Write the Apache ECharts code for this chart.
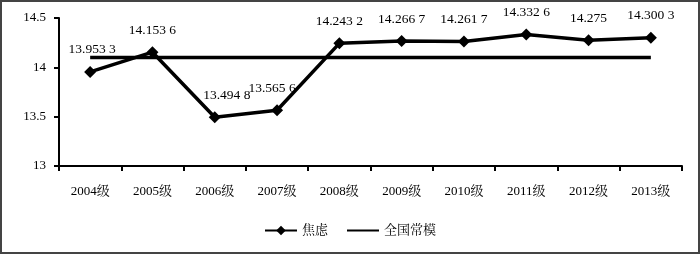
<!DOCTYPE html>
<html><head><meta charset="utf-8">
<script src="https://cdn.jsdelivr.net/npm/echarts@6/dist/echarts.min.js"></script>
<style>html,body{margin:0;padding:0;background:#fff}#c{width:700px;height:254px}</style>
</head><body><div id="c"></div>
<script>
const categories = ['2004级','2005级','2006级','2007级','2008级','2009级','2010级','2011级','2012级','2013级'];
const anxiety = [13.9533, 14.1536, 13.4948, 13.5656, 14.2432, 14.2667, 14.2617, 14.3326, 14.275, 14.3003];
const norm = [14.1, 14.1, 14.1, 14.1, 14.1, 14.1, 14.1, 14.1, 14.1, 14.1];
const yTicks = [13, 13.5, 14, 14.5];

const numFont = '"Liberation Serif","Times New Roman",serif';
const cjkFont = '"Liberation Serif","Noto Serif CJK SC","Noto Sans CJK SC",serif';
function fmt(v){
  const s = String(v);
  const [a,b] = s.split('.');
  if(!b || b.length <= 3) return s;
  return a + '.' + b.slice(0,3) + ' ' + b.slice(3);
}
const labelShift = {2:[12,0],3:[-5,0],0:[2,0]};
const anxietyData = anxiety.map((v,i)=>labelShift[i]?{value:v,label:{offset:labelShift[i]}}:v);
const chart = echarts.init(document.getElementById('c'));
chart.setOption({
  animation:false,
  backgroundColor:'#fff',
  graphic:[{type:'rect',shape:{x:1,y:1,width:698,height:252},style:{fill:'none',stroke:'#444',lineWidth:2},silent:true}],
  grid:{left:59,right:18,top:18,bottom:88},
  legend:{
    bottom:12,left:'center',itemWidth:32,itemHeight:12,itemGap:18,
    textStyle:{fontFamily:cjkFont,fontSize:13,color:'#000'},
    data:['焦虑',{name:'全国常模',itemStyle:{opacity:0}}]
  },
  xAxis:{
    type:'category',data:categories,boundaryGap:true,
    axisLine:{lineStyle:{color:'#000',width:2}},
    axisTick:{show:true,length:5,lineStyle:{color:'#000',width:2},alignWithLabel:false},
    axisLabel:{color:'#000',fontFamily:cjkFont,fontSize:13,margin:19}
  },
  yAxis:{
    type:'value',min:yTicks[0],max:yTicks[yTicks.length-1],interval:0.5,
    axisLine:{show:true,lineStyle:{color:'#000',width:2}},
    axisTick:{show:true,length:5,lineStyle:{color:'#000',width:2}},
    splitLine:{show:false},
    axisLabel:{color:'#000',fontFamily:numFont,fontSize:13,margin:13}
  },
  series:[
    {name:'焦虑',type:'line',data:anxietyData,symbol:'diamond',symbolSize:12,
     lineStyle:{color:'#000',width:3.5},itemStyle:{color:'#000'},
     label:{show:true,position:'top',distance:9,color:'#000',fontFamily:numFont,fontSize:13.5,
       formatter:p=>fmt(p.value)},z:3},
    {name:'全国常模',type:'line',data:norm,symbol:'none',showSymbol:false,
     lineStyle:{color:'#000',width:3.5},itemStyle:{color:'#000'},z:2}
  ]
});
</script></body></html>
